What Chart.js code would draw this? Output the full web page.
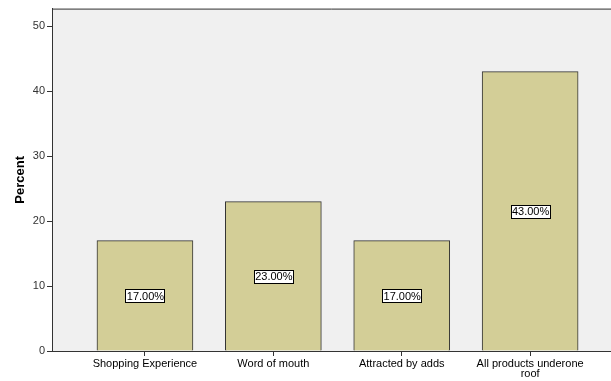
<!DOCTYPE html>
<html>
<head>
<meta charset="utf-8">
<script src="https://cdn.jsdelivr.net/npm/chart.js@4"></script>
<style>
  html, body { margin: 0; padding: 0; background: #ffffff; }
  #wrap { width: 611px; height: 381px; }
</style>
</head>
<body>
<div id="wrap"><canvas id="chart" width="611" height="381"></canvas></div>
<script>
// survey answers, percent of respondents
const categories = ['Shopping Experience', 'Word of mouth', 'Attracted by adds', ['All products underone', 'roof']];
const percents = [17, 23, 17, 43];
const yTicks = [0, 10, 20, 30, 40, 50];

const FONT = '"Liberation Sans", Arial, sans-serif';

// grey plot background behind the bars, with a line along the top
const plotBg = {
  id: 'plotBg',
  beforeDraw(chart) {
    const { ctx, chartArea: a } = chart;
    ctx.save();
    ctx.fillStyle = '#f0f0f0';
    ctx.fillRect(a.left, a.top, a.right - a.left, a.bottom - a.top);
    ctx.strokeStyle = '#333333';
    ctx.lineWidth = 1;
    ctx.beginPath();
    ctx.moveTo(a.left, a.top + 0.5);
    ctx.lineTo(a.right, a.top + 0.5);
    ctx.stroke();
    ctx.restore();
  }
};

// boxed value label in the middle of every bar
const valueBoxes = {
  id: 'valueBoxes',
  afterDatasetsDraw(chart) {
    const { ctx, scales } = chart;
    ctx.save();
    ctx.font = '11px ' + FONT;
    ctx.textAlign = 'center';
    ctx.textBaseline = 'middle';
    percents.forEach((v, i) => {
      const x = scales.x.getPixelForValue(i);
      const y = scales.y.getPixelForValue(v / 2);
      const txt = v.toFixed(2) + '%';
      const w = Math.round(ctx.measureText(txt).width) + 2;
      const h = 13;
      const bx = Math.round(x - w / 2) + 0.5, by = Math.round(y - h / 2) + 0.5;
      ctx.fillStyle = '#ffffff';
      ctx.fillRect(bx, by, w, h);
      ctx.strokeStyle = '#000000';
      ctx.lineWidth = 1;
      ctx.strokeRect(bx, by, w, h);
      ctx.fillStyle = '#000000';
      ctx.fillText(txt, x + 0.5, y + 1);
    });
    ctx.restore();
  }
};

new Chart(document.getElementById('chart'), {
  type: 'bar',
  data: {
    datasets: [{
      data: percents.map((v, i) => ({ x: i, y: v })),
      backgroundColor: '#d3ce97',
      borderColor: '#333333',
      borderWidth: 1,
      barThickness: 96
    }]
  },
  options: {
    responsive: false,
    animation: false,
    layout: { padding: { top: 6, right: 0, left: 0, bottom: 0 } },
    plugins: { legend: { display: false }, tooltip: { enabled: false } },
    scales: {
      x: {
        type: 'linear',
        offset: false,
        min: -0.724,
        max: 3.63,
        afterBuildTicks(axis) { axis.ticks = categories.map((c, i) => ({ value: i })); },
        afterFit(axis) { axis.height = 30; },
        ticks: {
          autoSkip: false,
          maxRotation: 0,
          padding: 3,
          color: '#000000',
          font: { family: FONT, size: 11, lineHeight: 0.9 },
          callback: (v) => categories[v]
        },
        grid: { offset: false, drawOnChartArea: false, drawTicks: true, tickLength: 5, color: '#333333' },
        border: { display: true, color: '#333333', width: 1 }
      },
      y: {
        min: 0,
        max: 52.7,
        afterBuildTicks(axis) { axis.ticks = yTicks.map(v => ({ value: v })); },
        afterFit(axis) { axis.width = 52; },
        ticks: {
          padding: 2,
          color: '#333333',
          font: { family: FONT, size: 11 }
        },
        grid: { drawOnChartArea: false, drawTicks: true, tickLength: 5, color: '#333333' },
        border: { display: true, color: '#333333', width: 1 },
        title: {
          display: true,
          text: 'Percent',
          color: '#000000',
          padding: { top: 13, bottom: 0 },
          font: { family: FONT, size: 13, weight: 'bold' }
        }
      }
    }
  },
  plugins: [plotBg, valueBoxes]
});
</script>
</body>
</html>
